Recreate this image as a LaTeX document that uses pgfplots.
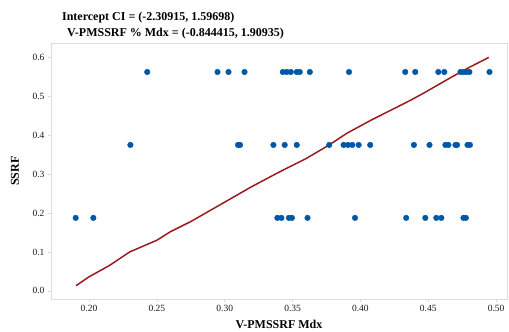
\documentclass[border=0pt]{standalone}
\usepackage{pgfplots}
\pgfplotsset{compat=1.18}
\usepackage{fontspec}
\setmainfont{Liberation Serif}
\definecolor{dotblue}{RGB}{0,87,168}
\definecolor{linered}{RGB}{155,28,32}
\definecolor{axgray}{RGB}{220,220,220}
\begin{document}
\begin{tikzpicture}
\begin{axis}[
  at={(0,0)}, anchor=south west,
  scale only axis, width=456pt, height=256pt,
  xmin=0.172, xmax=0.508, ymin=-0.021, ymax=0.637,
  xtick={0.20,0.25,0.30,0.35,0.40,0.45,0.50},
  ytick={0,0.1,0.2,0.3,0.4,0.5,0.6},
  xticklabel style={/pgf/number format/.cd,fixed,fixed zerofill,precision=2},
  yticklabel style={/pgf/number format/.cd,fixed,fixed zerofill,precision=1},
  /pgf/number format/assume math mode=true,
  tick label style={font=\fontsize{9.5}{10}\selectfont, text=black!90},
  tick align=outside, tick pos=left,
  major tick length=3pt,
  tick style={axgray, line width=0.6pt},
  axis line style={axgray, line width=0.6pt},
  xlabel={\textbf{V-PMSSRF Mdx}},
  ylabel={\textbf{SSRF}},
  label style={font=\fontsize{12}{13}\selectfont},
  xlabel style={at={(axis description cs:0.5,-0.098)}, anchor=center},
  ylabel style={at={(axis description cs:-0.079,0.5)}, anchor=center},
  clip=false,
]
\addplot[only marks, mark=*, mark size=2.8pt, dotblue] coordinates {
(0.2429,0.5625)(0.2947,0.5625)(0.3028,0.5625)(0.3146,0.5625)(0.3428,0.5625)
(0.3457,0.5625)(0.3487,0.5625)(0.3531,0.5625)(0.3553,0.5625)(0.3627,0.5625)
(0.3916,0.5625)(0.4330,0.5625)(0.4404,0.5625)(0.4574,0.5625)(0.4618,0.5625)
(0.4737,0.5625)(0.4759,0.5625)(0.4781,0.5625)(0.4803,0.5625)(0.4951,0.5625)
(0.2305,0.375)(0.3098,0.375)(0.3113,0.375)(0.3359,0.375)(0.3442,0.375)
(0.3531,0.375)(0.3770,0.375)(0.3876,0.375)(0.3908,0.375)(0.3940,0.375)
(0.3987,0.375)(0.4072,0.375)(0.4394,0.375)(0.4509,0.375)(0.4626,0.375)
(0.4648,0.375)(0.4700,0.375)(0.4712,0.375)(0.4789,0.375)(0.4807,0.375)
(0.1902,0.1875)(0.2032,0.1875)(0.3388,0.1875)(0.3418,0.1875)(0.3473,0.1875)
(0.3495,0.1875)(0.3610,0.1875)(0.3960,0.1875)(0.4337,0.1875)(0.4478,0.1875)
(0.4559,0.1875)(0.4596,0.1875)(0.4759,0.1875)(0.4777,0.1875)
};
\addplot[linered, line width=1.5pt, no marks] coordinates {
(0.1904,0.013)(0.200,0.036)(0.215,0.065)(0.230,0.100)(0.250,0.130)
(0.260,0.152)(0.275,0.178)(0.300,0.228)(0.320,0.268)(0.340,0.305)
(0.360,0.340)(0.377,0.375)(0.390,0.405)(0.408,0.439)(0.420,0.460)
(0.437,0.490)(0.447,0.509)(0.467,0.549)(0.480,0.574)(0.4946,0.600)
};
\node[anchor=west, font=\bfseries\fontsize{12}{13}\selectfont, inner sep=0pt]
  at (axis description cs:0.024,1.0996) {Intercept CI = (-2.30915, 1.59698)};
\node[anchor=west, font=\bfseries\fontsize{12}{13}\selectfont, inner sep=0pt]
  at (axis description cs:0.035,1.035) {V-PMSSRF \% Mdx = (-0.844415, 1.90935)};
\end{axis}
\pgfresetboundingbox
\path[use as bounding box] (-51pt,-33pt) rectangle (458pt,299pt);
\end{tikzpicture}
\end{document}
